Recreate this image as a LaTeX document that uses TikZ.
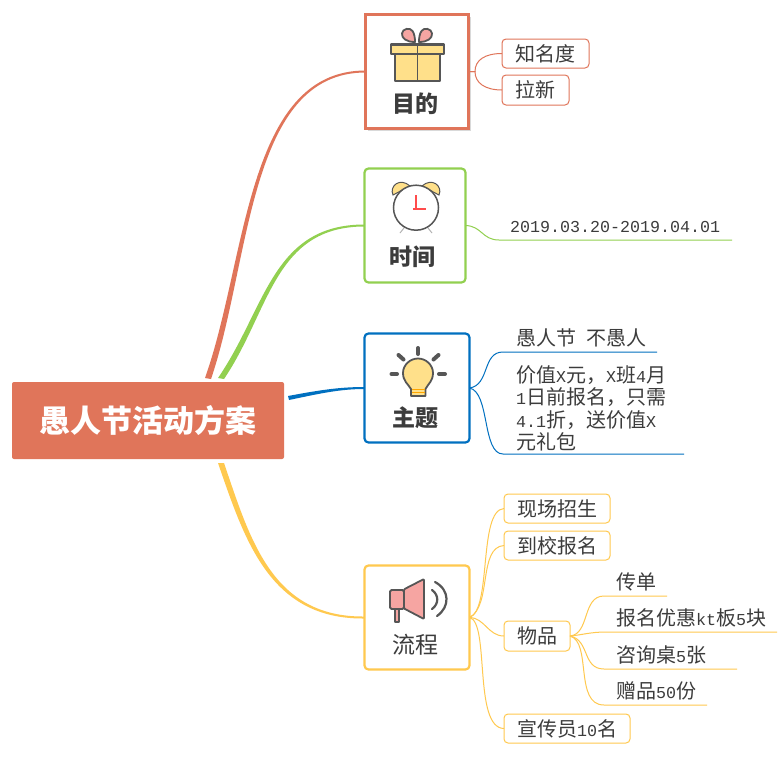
\documentclass[tikz,border=0pt]{standalone}
\usepackage{fontspec}
\usetikzlibrary{calc}
\setmainfont{Noto Sans CJK SC}
\newfontfamily\latfont{Liberation Mono}
\newcommand{\lat}[1]{{\latfont\fontsize{16.67}{22.3}\selectfont #1}}
\definecolor{cred}{HTML}{E0755A}
\definecolor{cgreen}{HTML}{92D050}
\definecolor{cblue}{HTML}{0070C0}
\definecolor{cyel}{HTML}{FFC94F}
\definecolor{txt}{HTML}{3C3C3C}
\definecolor{icon}{HTML}{565656}
\definecolor{gold}{HTML}{FFE08A}
\definecolor{pink}{HTML}{F6A5A2}
\tikzset{
  x=1pt,y=-1pt,
  rootbox/.style={fill=cred,rounded corners=2pt,minimum width=272pt,minimum height=77pt,inner sep=0pt,outer sep=0pt,text=white,font=\fontsize{31}{36}\selectfont\bfseries},
  mainbox/.style={draw=#1,line width=2.2pt,fill=white,rounded corners=4pt,inner sep=0pt,outer sep=0pt},
  subbox/.style={draw=#1,line width=1pt,fill=white,rounded corners=4pt,inner sep=0pt,outer sep=0pt,minimum height=29pt,text=txt,font=\fontsize{20}{24}\selectfont},
  plain/.style={inner sep=0pt,outer sep=0pt,anchor=west,text=txt,font=\fontsize{20}{24}\selectfont},
  boxlabel/.style={inner sep=0pt,text=txt,font=\fontsize{23}{27}\selectfont},
  conn/.style={draw=#1,line width=1pt},
  iconline/.style={draw=icon,line width=1.8pt,line join=round},
  ray/.style={draw=icon,line width=4pt,line cap=round},
}
\begin{document}
\begin{tikzpicture}
\useasboundingbox (0,0) rectangle (780,758);
\fill[white] (0,0) rectangle (780,758);

% central and main nodes
\node[rootbox] (root) at (148,420.5) {愚人节活动方案};
\fill[black!15] (367.5,16.5) rectangle (471,131);
\node[mainbox=cred,rounded corners=0pt,line width=2.6pt,minimum width=103pt,minimum height=114pt] (goal) at (417,71.5) {};
\node[mainbox=cgreen,minimum width=101pt,minimum height=114pt] (time) at (415,225.5) {};
\node[mainbox=cblue,minimum width=105pt,minimum height=109pt] (theme) at (417,388) {};
\node[mainbox=cyel,minimum width=105pt,minimum height=104pt] (flow) at (417,617.5) {};

% tapered main branches
\coordinate (ra1) at (205,378); \coordinate (ra2) at (211,379);
\coordinate (rb1) at (218,378); \coordinate (rb2) at (224,379);
\coordinate (rc1) at (288,396); \coordinate (rc2) at (289,400);
\coordinate (rd1) at (218,463); \coordinate (rd2) at (224,463);
\fill[cred] (ra1) .. controls (247,260) and (246,70.5) .. ($(goal.west)+(0,-1)$) -- ($(goal.west)+(0,1)$) .. controls (248,72.5) and (251,262) .. (ra2) -- cycle;
\fill[cgreen] (rb1) .. controls (266,308) and (272,224.5) .. ($(time.west)+(0,-1)$) -- ($(time.west)+(0,1)$) .. controls (274,226.5) and (270,311) .. (rb2) -- cycle;
\fill[cblue] (rc1) .. controls (320,390) and (340,387) .. ($(theme.west)+(0,-1)$) -- ($(theme.west)+(0,1)$) .. controls (340,389) and (320,393.5) .. (rc2) -- cycle;
\fill[cyel] (rd1) .. controls (245,541) and (270,619.5) .. ($(flow.west)+(0,1)$) -- ($(flow.west)+(0,-1)$) .. controls (272,617.5) and (250,539) .. (rd2) -- cycle;

% main labels
\node[boxlabel,font=\fontsize{23}{27}\selectfont\bfseries] (goalt) at (415,104) {目的};
\node[boxlabel,font=\fontsize{23}{27}\selectfont\bfseries] (timet) at (412,257) {时间};
\node[boxlabel,font=\fontsize{23}{27}\selectfont\bfseries] (themet) at (415,418) {主题};
\node[boxlabel] (flowt) at (415,645) {流程};

% goal children
\node[subbox=cred,minimum width=87pt] (g1) at (545.5,53.5) {知名度};
\node[subbox=cred,minimum width=67pt,minimum height=30pt] (g2) at (535.5,90) {拉新};
\draw[conn=cred] (goal.east) -- (475,71.5) .. controls (475,60) and (485,53.5) .. (g1.west);
\draw[conn=cred] (goal.east) -- (475,71.5) .. controls (475,83) and (485,90) .. (g2.west);

% time child
\node[plain] (t1) at (510,227) {\lat{2019.03.20-2019.04.01}};
\coordinate (t1s) at (499,240); \coordinate (t1e) at (732,240);
\draw[conn=cgreen] (time.east) .. controls (482,226) and (482,240) .. (t1s) -- (t1e);

% theme children
\node[plain] (h1) at (516,338) {愚人节\hspace{10pt}不愚人};
\node[plain,align=left,font=\fontsize{20}{22.3}\selectfont] (h2) at (516,408.5) {价值\lat{X}元，\lat{X}班\lat{4}月\\\lat{1}日前报名，只需\\\lat{4.1}折，送价值\lat{X}\\元礼包};
\coordinate (h1s) at (503,352); \coordinate (h1e) at (657,352);
\coordinate (h2s) at (503,454); \coordinate (h2e) at (684,454);
\draw[conn=cblue] (theme.east) .. controls (490,385) and (482,352) .. (h1s) -- (h1e);
\draw[conn=cblue] (theme.east) .. controls (490,392) and (482,454) .. (h2s) -- (h2e);

% flow children
\node[subbox=cyel,minimum width=106pt] (f1) at (557,508.5) {现场招生};
\node[subbox=cyel,minimum width=106pt] (f2) at (557,545.5) {到校报名};
\node[subbox=cyel,minimum width=66pt,minimum height=30pt] (f3) at (537,636) {物品};
\node[subbox=cyel,minimum width=126pt] (f4) at (567,728.5) {宣传员\lat{10}名};
\draw[conn=cyel] (flow.east) .. controls (492,610) and (478,510) .. (f1.west);
\draw[conn=cyel] (flow.east) .. controls (492,606) and (478,547) .. (f2.west);
\draw[conn=cyel] (flow.east) .. controls (485,618) and (488,636) .. (f3.west);
\draw[conn=cyel] (flow.east) .. controls (490,622) and (473,728) .. (f4.west);

% goods children
\node[plain] (p1) at (616,582) {传单};
\node[plain] (p2) at (616,618) {报名优惠\lat{kt}板\lat{5}块};
\node[plain] (p3) at (616,655) {咨询桌\lat{5}张};
\node[plain] (p4) at (616,691) {赠品\lat{50}份};
\coordinate (p1s) at (604,596); \coordinate (p1e) at (667,596);
\coordinate (p2s) at (606,632); \coordinate (p2e) at (777,632);
\coordinate (p3s) at (604,669); \coordinate (p3e) at (737,669);
\coordinate (p4s) at (604,705); \coordinate (p4e) at (707,705);
\draw[conn=cyel] (f3.east) .. controls (590,634) and (582,596) .. (p1s) -- (p1e);
\draw[conn=cyel] (f3.east) .. controls (582,635) and (590,632) .. (p2s) -- (p2e);
\draw[conn=cyel] (f3.east) .. controls (590,640) and (582,669) .. (p3s) -- (p3e);
\draw[conn=cyel] (f3.east) .. controls (592,642) and (574,705) .. (p4s) -- (p4e);

% gift icon
\draw[iconline,fill=pink] (415,42) .. controls (406,42) and (401.5,38) .. (402,33.5) .. controls (402.5,28.5) and (410,27) .. (412.5,31) .. controls (414.5,34) and (415,38) .. (415,42) -- cycle;
\draw[iconline,fill=pink] (419,42) .. controls (428,42) and (432.5,38) .. (432,33.5) .. controls (431.5,28.5) and (424,27) .. (421.5,31) .. controls (419.5,34) and (419,38) .. (419,42) -- cycle;
\draw[iconline,fill=gold] (395,54) rectangle (440,81);
\draw[iconline,fill=gold,line width=2.2pt] (391,44.5) rectangle (444,54);
\draw[iconline] (417.5,44.5) -- (417.5,81);

% clock icon
\draw[draw=black!30,line width=1pt] (404,228) -- (400,233);
\draw[draw=black!30,line width=1pt] (428,228) -- (432,233);
\draw[draw=icon,line width=1pt,fill=gold] (393,195) .. controls (389,186) and (400,177) .. (410,186) -- cycle;
\draw[draw=icon,line width=1pt,fill=gold] (439,195) .. controls (443,186) and (432,177) .. (422,186) -- cycle;
\draw[draw=icon,line width=1.5pt,fill=white] (416,207.7) circle[radius=22.5];
\draw[draw=red!70!white,line width=1.3pt] (416,195) -- (416,210) (413,209) -- (426,209);

% bulb icon
\draw[ray] (418,348) -- (418,354);
\draw[ray] (398.5,355) -- (403.5,359.5);
\draw[ray] (438.5,355) -- (433.5,359.5);
\draw[ray] (391.5,374) -- (397,374);
\draw[ray] (439,374) -- (445,374);
\draw[iconline,fill=gold] (411,396) -- (411,389) .. controls (408,384) and (403,381) .. (403,373) .. controls (403,365) and (410,358.5) .. (418,358.5) .. controls (426,358.5) and (433,365) .. (433,373) .. controls (433,381) and (428,384) .. (425.5,389) -- (425.5,396) -- cycle;
\draw[draw=orange!70!yellow,line width=1pt] (412,389) -- (424.5,389) (412,392.5) -- (424.5,392.5);

% megaphone icon
\draw[iconline,fill=pink] (395,609) rectangle (399.3,622);
\draw[iconline,fill=pink,rounded corners=1.5pt] (390,590) rectangle (404,609);
\draw[iconline,fill=pink,rounded corners=1pt] (404,589.3) -- (424,579) -- (424,619) -- (404,608.5) -- cycle;
\draw[draw=icon,line width=2.2pt,line cap=round] (432,590) .. controls (439,595) and (439,604) .. (432,609);
\draw[draw=icon,line width=2.2pt,line cap=round] (435,582) .. controls (450,590) and (450,607) .. (437,616);
\end{tikzpicture}
\end{document}
